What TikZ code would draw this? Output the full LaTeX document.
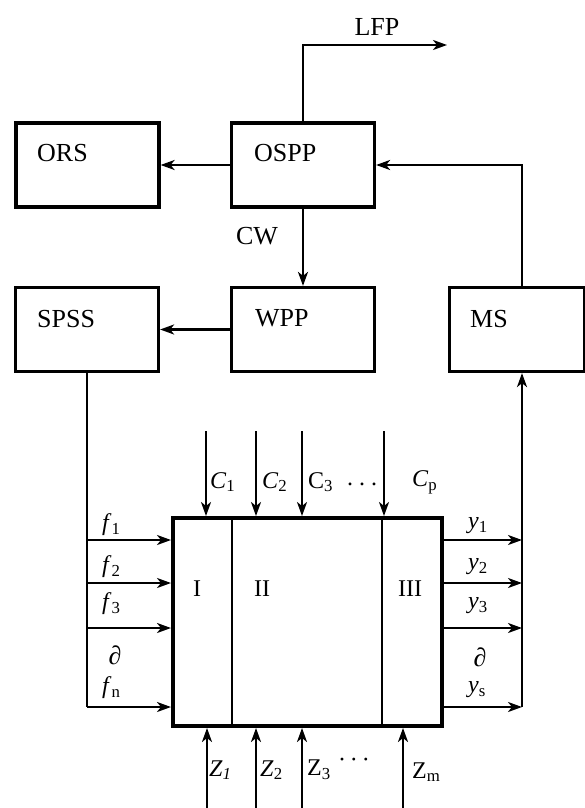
\documentclass[tikz,border=0pt]{standalone}
\usepackage{fontspec}
\setmainfont{Liberation Serif}
\usetikzlibrary{arrows.meta}
\begin{document}
\begin{tikzpicture}[x=1pt,y=-1pt,
  box/.style={draw, line width=3.2pt, minimum width=143pt, minimum height=84pt, inner sep=0pt},
  lab/.style={font=\fontsize{26}{30}\selectfont, inner sep=0pt, anchor=west},
  sml/.style={font=\fontsize{24}{28}\selectfont, inner sep=0pt, anchor=west},
  ln/.style={line width=2.2pt},
  arr/.style={line width=2.2pt, -{Stealth[length=14pt,width=10pt,inset=4pt]}}]
\useasboundingbox (0,0) rectangle (585,808);

% boxes
\node[box] (ors)  at (87.5,165) {};
\node[box] (ospp) at (303,165) {};
\node[box] (spss) at (87,329.5) {};
\node[box] (wpp)  at (303,329.5) {};
\node[box, minimum width=135pt] (ms) at (517,329.5) {};
\node[draw, line width=4pt, minimum width=269pt, minimum height=208pt, inner sep=0pt] (main) at (307.5,622) {};

% box labels
\node[lab] (tors)  at (37,153) {ORS};
\node[lab] (tospp) at (254,153) {OSPP};
\node[lab] (tspss) at (37,319) {SPSS};
\node[lab] (twpp)  at (255,318) {WPP};
\node[lab] (tms)   at (470,319) {MS};
\node[lab, anchor=center] (tlfp) at (377,27) {LFP};
\node[lab, anchor=center] (tcw)  at (257,236) {CW};

% coordinates
\coordinate (lfp) at (447,45);
\coordinate (d1) at (232,622);
\coordinate (d2) at (382,622);
\coordinate (c1) at (206,431);
\coordinate (c2) at (256,431);
\coordinate (c3) at (302,431);
\coordinate (cp) at (384,431);
\coordinate (z1) at (207,808);
\coordinate (z2) at (256,808);
\coordinate (z3) at (302,808);
\coordinate (zm) at (403,808);
\coordinate (fa1) at (87,540);
\coordinate (fa2) at (87,583);
\coordinate (fa3) at (87,628);
\coordinate (fan) at (87,707);
\coordinate (ya1) at (522,540);
\coordinate (ya2) at (522,583);
\coordinate (ya3) at (522,628);
\coordinate (yas) at (522,707);

% top connectors
\draw[arr] (ospp.north) |- (lfp);
\draw[arr] (ospp.west) -- (ors.east);
\draw[arr] (ms.north -| yas) |- (ospp.east);
\draw[arr] (ospp.south) -- (wpp.north);
\draw[arr] (wpp.west) -- (spss.east);

% dividers of main block
\draw[ln] (d1 |- main.north) -- (d1 |- main.south);
\draw[ln] (d2 |- main.north) -- (d2 |- main.south);

% C arrows
\draw[arr] (c1) -- (c1 |- main.north);
\draw[arr] (c2) -- (c2 |- main.north);
\draw[arr] (c3) -- (c3 |- main.north);
\draw[arr] (cp) -- (cp |- main.north);

% Z arrows
\draw[arr] (z1) -- (z1 |- main.south);
\draw[arr] (z2) -- (z2 |- main.south);
\draw[arr] (z3) -- (z3 |- main.south);
\draw[arr] (zm) -- (zm |- main.south);

% left inputs
\draw[ln] (spss.south) -- (fan);
\draw[arr] (fa1) -- (fa1 -| main.west);
\draw[arr] (fa2) -- (fa2 -| main.west);
\draw[arr] (fa3) -- (fa3 -| main.west);
\draw[arr] (fan) -- (fan -| main.west);

% right outputs
\draw[arr] (ya1 -| main.east) -- (ya1);
\draw[arr] (ya2 -| main.east) -- (ya2);
\draw[arr] (ya3 -| main.east) -- (ya3);
\draw[arr] (yas -| main.east) -- (yas);
\draw[arr] (yas) -- (ms.south -| yas);

% section labels
\node[sml, anchor=center] (s1) at (197,589) {I};
\node[sml, anchor=center] (s2) at (262,589) {II};
\node[sml, anchor=center] (s3) at (410,589) {III};

% C labels
\node[sml] (lc1) at (210,482) {\textit{C}\textsubscript{1}};
\node[sml] (lc2) at (262,482) {\textit{C}\textsubscript{2}};
\node[sml] (lc3) at (308,482) {C\textsubscript{3}};
\node[sml, anchor=center] (lcd) at (362,484) {.\ .\ .};
\node[sml] (lcp) at (412,482) {\textit{C}\textsubscript{p}};

% f labels
\node[sml] (lf1) at (102,525) {\textit{f}\textsubscript{1}};
\node[sml] (lf2) at (102,567) {\textit{f}\textsubscript{2}};
\node[sml] (lf3) at (102,604) {\textit{f}\textsubscript{3}};
\node[lab, anchor=center] (lfd) at (115,655) {\textit{∂}};
\node[sml] (lfn) at (102,688) {\textit{f}\textsubscript{n}};

% y labels
\node[sml] (ly1) at (468,526) {\textit{y}\textsubscript{1}};
\node[sml] (ly2) at (468,567) {\textit{y}\textsubscript{2}};
\node[sml] (ly3) at (468,606) {\textit{y}\textsubscript{3}};
\node[lab, anchor=center] (lyd) at (480,657) {\textit{∂}};
\node[sml] (lys) at (468,690) {\textit{y}\textsubscript{s}};

% Z labels
\node[sml] (lz1) at (209,770) {\textit{Z}\textsubscript{\textit{1}}};
\node[sml] (lz2) at (260,770) {\textit{Z}\textsubscript{2}};
\node[sml] (lz3) at (307,770) {Z\textsubscript{3}};
\node[sml, anchor=center] (lzd) at (354,763) {·\,·\,·};
\node[sml] (lzm) at (412,772) {Z\textsubscript{m}};
\end{tikzpicture}
\end{document}
